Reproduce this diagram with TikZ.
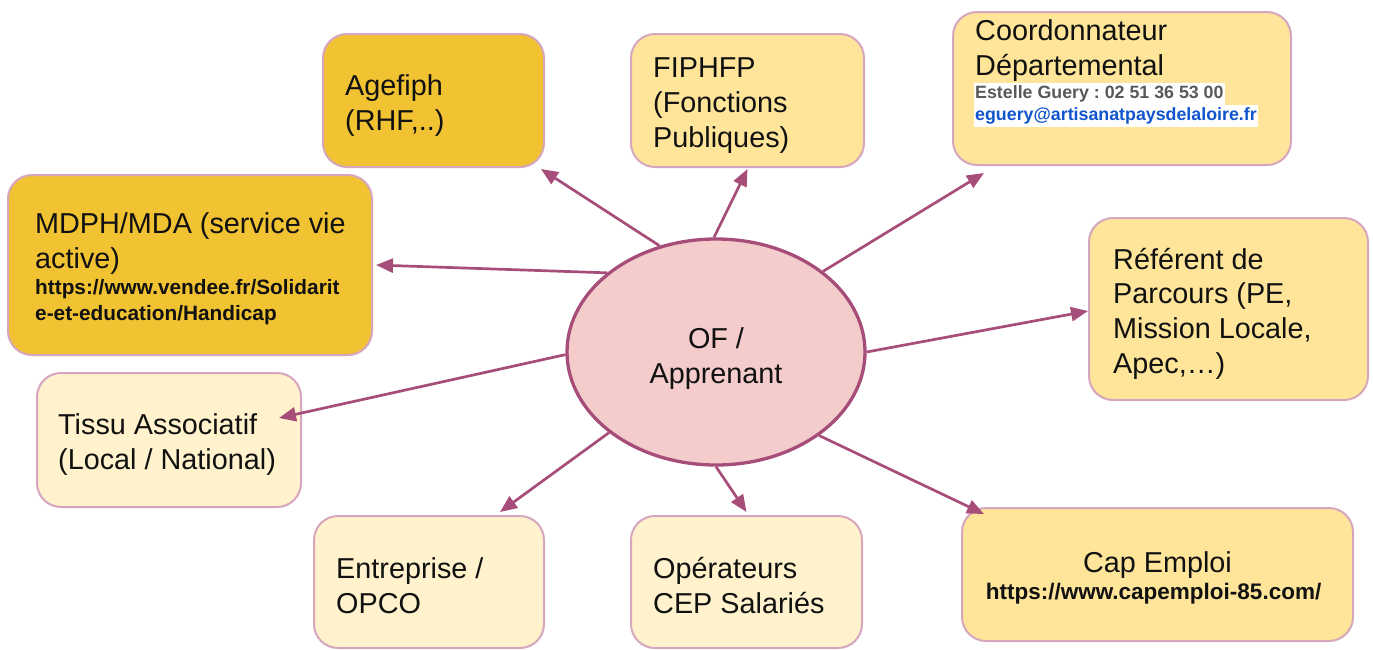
\documentclass[tikz,border=0pt]{standalone}
\usepackage{fontspec}
\setmainfont{Liberation Sans}
\frenchspacing
\usetikzlibrary{arrows.meta,shapes.geometric}
\definecolor{gold}{HTML}{F1C232}
\definecolor{lightgold}{HTML}{FFE599}
\definecolor{palegold}{HTML}{FFF2CC}
\definecolor{pinkfill}{HTML}{F4CCCC}
\definecolor{plum}{HTML}{A64D79}
\definecolor{boxline}{HTML}{D5A6BD}
\definecolor{txt}{HTML}{111111}
\definecolor{graytxt}{HTML}{595959}
\definecolor{linkblue}{HTML}{1155CC}
\begin{document}
\begin{tikzpicture}[x=1pt,y=-1pt,
  box/.style={draw=boxline, line width=2pt, rounded corners=24pt, inner sep=0pt},
  maintext/.style={anchor=north west, inner sep=0pt, align=left, text=txt,
    font=\fontsize{28.8}{35}\selectfont},
  subtext/.style={inner sep=0pt, align=left, text=txt,
    font=\bfseries\fontsize{20.8}{26}\selectfont},
  arr/.style={draw=plum, line width=2.7pt, -{Triangle[length=17pt,width=14pt]}}
]
\useasboundingbox (0,0) rectangle (1373,649);

% boxes
\node[box, fill=gold, minimum width=221pt, minimum height=133pt] (agefiph) at (433.5,100.5) {};
\node[box, fill=lightgold, minimum width=233pt, minimum height=133pt] (fiphfp) at (747.5,100.5) {};
\node[box, fill=lightgold, minimum width=338pt, minimum height=153pt] (coord) at (1122,88.5) {};
\node[box, fill=gold, minimum width=364pt, minimum height=180pt] (mdph) at (190,265) {};
\node[box, fill=lightgold, minimum width=279pt, minimum height=182pt] (referent) at (1228.5,309) {};
\node[box, fill=palegold, minimum width=264pt, minimum height=134pt] (tissu) at (169,440) {};
\node[box, fill=palegold, minimum width=230pt, minimum height=132pt] (entreprise) at (429,582) {};
\node[box, fill=palegold, minimum width=231pt, minimum height=132pt] (operateurs) at (746.5,582) {};
\node[box, fill=lightgold, minimum width=391pt, minimum height=133pt] (cap) at (1157.5,574.5) {};

% centre ellipse
\node[ellipse, draw=plum, line width=3.3pt, fill=pinkfill, minimum width=298pt,
  minimum height=226pt, inner sep=0pt] (of) at (716,352) {};
\node[anchor=north, inner sep=0pt, align=center, text=txt,
  font=\fontsize{28.8}{35}\selectfont] (ofT) at (716,323.5) {\strut OF /\\Apprenant};

% texts
\node[maintext] (agefiphT) at (345,70.5) {\strut Agefiph\\(RHF,..)};
\node[maintext] (fiphfpT) at (653,53) {\strut FIPHFP\\(Fonctions\\Publiques)};
\node[maintext] (coordT) at (975,15.5) {\strut Coordonnateur\\Départemental};
\node[anchor=base west, inner sep=0pt, inner xsep=1pt, fill=white, text=graytxt,
  font=\bfseries\fontsize{17.8}{22}\selectfont] (coordA) at (974,98) {\strut Estelle Guery : 02 51 36 53 00};
\node[anchor=base west, inner sep=0pt, inner xsep=1pt, fill=white, text=linkblue,
  font=\bfseries\fontsize{17.8}{22}\selectfont] (coordB) at (974,120) {\strut eguery@artisanatpaysdelaloire.fr};
\node[maintext] (mdphT) at (35,208.5) {\strut MDPH/MDA (service vie\\active)};
\node[subtext, anchor=north west] (mdphU) at (35,275.8) {\strut https://www.vendee.fr/Solidarit\\e-et-education/Handicap};
\node[maintext, font=\fontsize{28.8}{34.7}\selectfont] (referentT) at (1113,244.5) {\strut Référent de\\Parcours (PE,\\Mission Locale,\\Apec,…)};
\node[maintext] (tissuT) at (58,409.5) {\strut Tissu Associatif\\(Local / National)};
\node[maintext] (entrepriseT) at (336,553.5) {\strut Entreprise /\\OPCO};
\node[maintext] (operateursT) at (653,553.5) {\strut Opérateurs\\CEP Salariés};
\node[anchor=base, inner sep=0pt, text=txt, font=\fontsize{28.8}{35}\selectfont] (capT) at (1157.5,572) {Cap Emploi};
\node[anchor=base, inner sep=0pt, text=txt, font=\bfseries\fontsize{22.5}{27}\selectfont] (capU) at (1153.5,599) {https://www.capemploi-85.com/};

% connectors
\draw[arr] (of.118) -- ([xshift=-4pt,yshift=-1pt]agefiph.south east);
\draw[arr] (of.91) -- ([yshift=-1pt]fiphfp.south);
\draw[arr] (of.37) -- ([xshift=32pt,yshift=-7pt]coord.south west);
\draw[arr] (of.144) -- ([xshift=3pt]mdph.east);
\draw[arr] (of.0) -- ([yshift=-2pt]referent.west);
\draw[arr] (of.181) -- ([xshift=-23pt,yshift=22pt]tissu.east);
\draw[arr] (of.217) -- ([xshift=71pt,yshift=3pt]entreprise.north);
\draw[arr] (of.270) -- ([yshift=3pt]operateurs.north);
\draw[arr] (of.321) -- ([xshift=23pt,yshift=-7pt]cap.north west);
\end{tikzpicture}
\end{document}
